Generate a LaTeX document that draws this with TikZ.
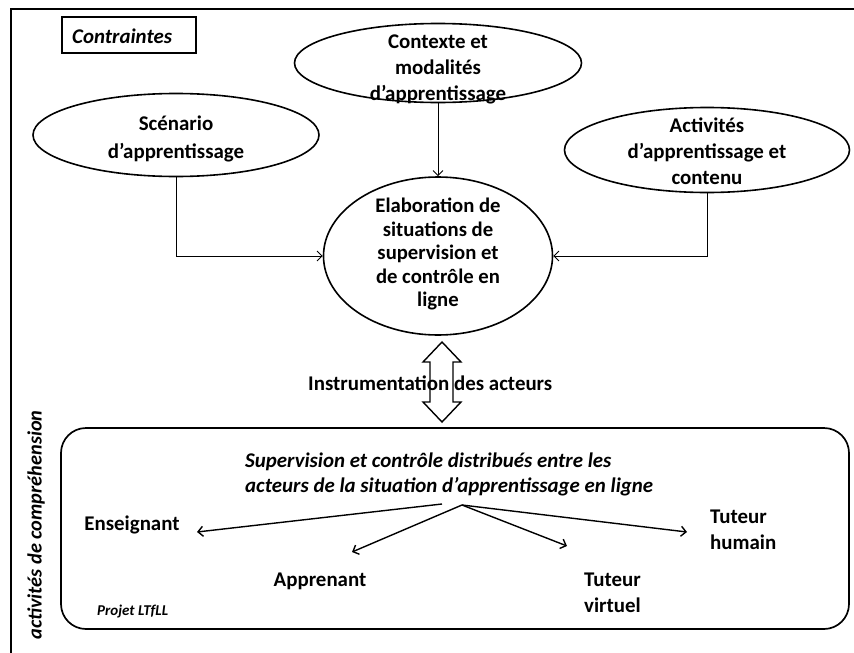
\documentclass[tikz,border=0pt]{standalone}
\usepackage{fontspec}
\setmainfont{Carlito}
\usetikzlibrary{shapes.geometric,arrows.meta}
\tikzset{
  bubble/.style={draw, ellipse, line width=1.6pt, inner sep=0pt},
  lbl/.style={font=\bfseries\fontsize{20.9}{26}\selectfont, align=center, inner sep=0pt},
  conn/.style={line width=0.9pt, -{Straight Barb[length=5pt,width=10pt]}},
  actor/.style={line width=1.4pt, -{Straight Barb[length=5pt,width=10pt]}},
  plain/.style={font=\bfseries\fontsize{20.9}{26}\selectfont, inner sep=0pt},
}
\begin{document}
\begin{tikzpicture}[x=1pt,y=-1pt]
\useasboundingbox (0,0) rectangle (854,653);
% outer frame (top and left only)
\draw[line width=2.6pt] (11,653) -- (11,9) -- (854,9);
% Contraintes box
\node[draw, line width=1.5pt, minimum width=134pt, minimum height=36pt, inner sep=0pt] (cbox) at (129,35) {};
\node[font=\bfseries\itshape\fontsize{20.9}{26}\selectfont, inner sep=0pt, anchor=base west] (ctxt) at (72,43) {Contraintes};
% ellipses
\node[bubble, minimum width=286pt, minimum height=83pt] (scen) at (176,135) {};
\node[lbl, font=\bfseries\fontsize{20.9}{28}\selectfont] (scent) at (176,139) {Scénario\\d’apprentissage};
\node[bubble, minimum width=287pt, minimum height=79pt] (ctx) at (438,63) {};
\node[lbl] (ctxt2) at (438,69) {Contexte et\\modalités\\d’apprentissage};
\node[bubble, minimum width=285pt, minimum height=85pt] (act) at (707,150) {};
\node[lbl] (actt) at (707,151) {Activités\\d’apprentissage et\\contenu};
\node[bubble, minimum width=229pt, minimum height=158pt] (elab) at (438,256) {};
\node[lbl, font=\bfseries\fontsize{20.7}{23.5}\selectfont] (elabt) at (438,254) {Elaboration de\\situations de\\supervision et\\de contrôle en\\ligne};
% connectors
\draw[conn] (scen.south) |- (elab.west);
\draw[conn] (ctx.south) -- (elab.north);
\draw[conn] (act.south) |- (elab.east);
% instrumentation label and double arrow
\node[plain, anchor=base west] (instr) at (308,390) {Instrumentation des acteurs};
\draw[line width=1.4pt] (442,342) -- (461,362) -- (453,362) -- (453,402) -- (461,402) -- (442,422) -- (423,402) -- (430,402) -- (430,362) -- (423,362) -- cycle;
% bottom box
\node[draw, line width=1.7pt, rounded corners=25pt, minimum width=788pt, minimum height=201pt, inner sep=0pt] (box) at (455,528.5) {};
\node[font=\bfseries\itshape\fontsize{20.9}{25}\selectfont, align=left, inner sep=0pt, anchor=north west] (sup) at (245,453) {Supervision et contrôle distribués entre les\\acteurs de la situation d’apprentissage en ligne};
\node[plain, anchor=base] (ens) at (132,530) {Enseignant};
\node[plain, anchor=base] (app) at (320,586) {Apprenant};
\node[plain, align=left, anchor=north west] (tv) at (584,573) {Tuteur\\virtuel};
\node[plain, align=left, anchor=north west] (th) at (710,510) {Tuteur\\humain};
\node[font=\bfseries\itshape\fontsize{15}{18}\selectfont, inner sep=0pt, anchor=base west] (proj) at (97,615) {Projet LTfLL};
\node[font=\bfseries\itshape\fontsize{20.3}{24}\selectfont, inner sep=0pt, rotate=90] (vert) at (36,525) {activités de compréhension};
% actor arrows
\coordinate (o1) at (442,504);
\coordinate (o2) at (462,505);
\coordinate (tEns) at (197,532);
\coordinate (tApp) at (352,552);
\coordinate (tTv) at (567,546);
\coordinate (tTh) at (687,532);
\draw[actor] (o1) -- (tEns);
\draw[actor] (o2) -- (tApp);
\draw[actor] (o2) -- (tTv);
\draw[actor] (o2) -- (tTh);
\end{tikzpicture}
\end{document}
